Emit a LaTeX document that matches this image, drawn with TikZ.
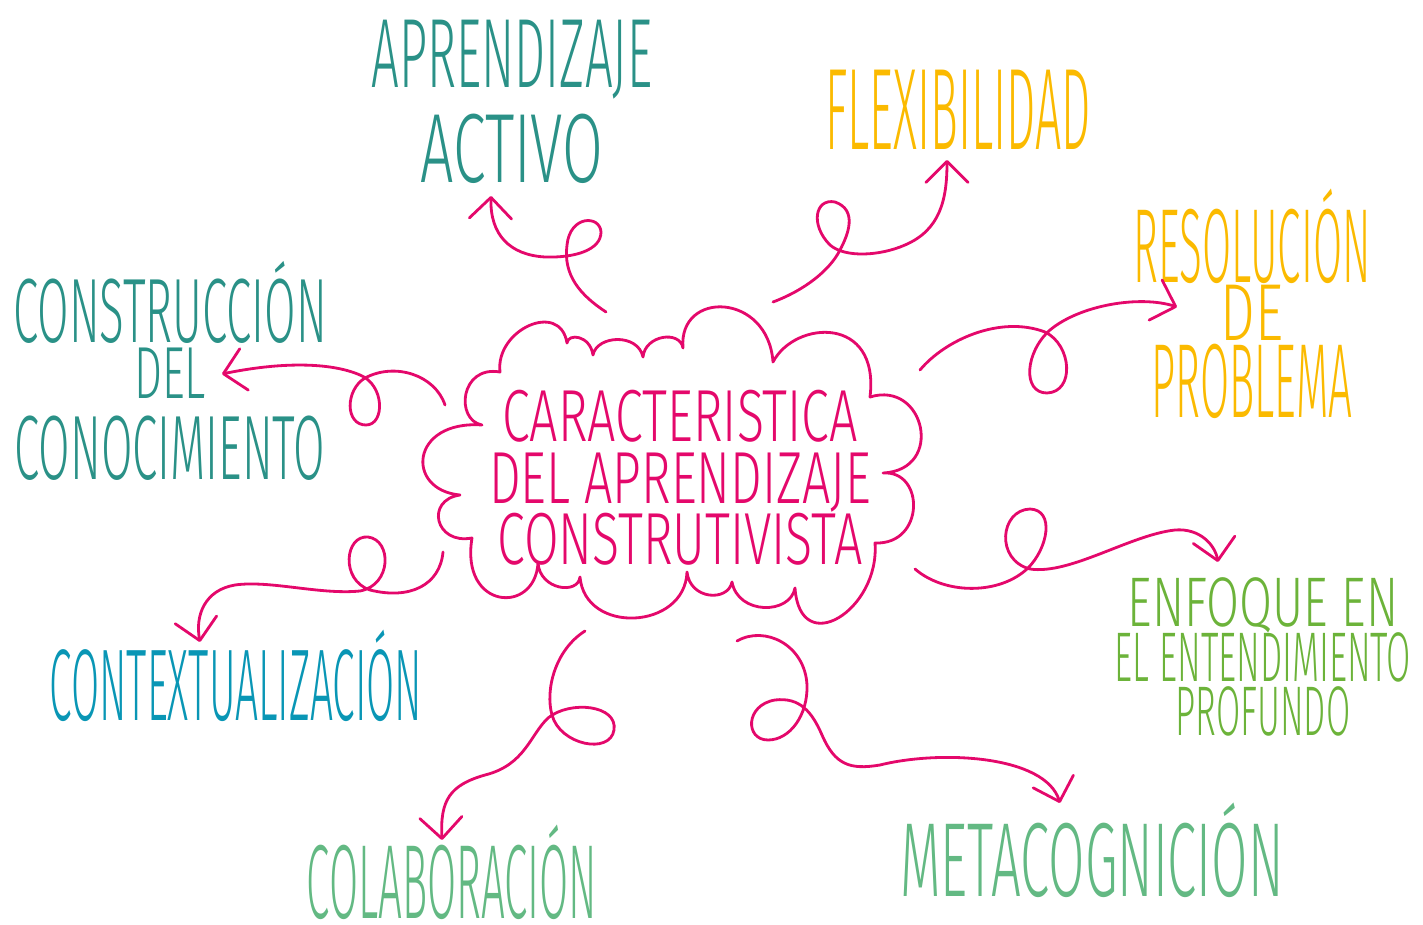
\documentclass[tikz,border=0pt]{standalone}
\usepackage{fontspec}
\usepackage{xcolor}
\usepackage{tikz}
\usetikzlibrary{arrows.meta}
\newfontfamily\manoA[FakeStretch=0.40]{Fira Sans Light}
\newfontfamily\manoB[FakeStretch=0.50]{Fira Sans Light}
\newfontfamily\manoD[FakeStretch=0.60]{Fira Sans Light}
\newfontfamily\manoC[FakeStretch=0.68]{Fira Sans Light}
\definecolor{rosa}{HTML}{E4086B}
\definecolor{verdeazul}{HTML}{2A9187}
\definecolor{amarillo}{HTML}{FBBA00}
\definecolor{verde}{HTML}{6CB33A}
\definecolor{azul}{HTML}{0996B5}
\definecolor{menta}{HTML}{63B983}
\lineskiplimit=-100pt
\tikzset{>={Straight Barb[length=12pt,width=24pt,round]}}

\begin{document}
\begin{tikzpicture}[line cap=round,line join=round,x=0.02cm,y=-0.02cm,
		trazo/.style={color=rosa,line width=1.6pt},
		etiq/.style={inner sep=0pt,align=center}]
	\useasboundingbox (0,0) rectangle (1423,925);
	% nube central
	\draw[trazo] (500,372) .. controls (495,330) and (560,300) .. (567,343)
		.. controls (568,333) and (590,335) .. (593,355)
		.. controls (597,335) and (638,333) .. (643,357)
		.. controls (645,335) and (680,330) .. (683,348)
		.. controls (678,290) and (768,292) .. (773,362)
		.. controls (795,320) and (880,315) .. (870,397)
		.. controls (925,380) and (945,470) .. (883,473)
		.. controls (925,470) and (925,545) .. (875,543)
		.. controls (880,610) and (800,660) .. (795,588)
		.. controls (790,615) and (738,615) .. (732,582)
		.. controls (728,602) and (690,600) .. (687,572)
		.. controls (685,630) and (585,635) .. (580,577)
		.. controls (578,595) and (540,590) .. (538,563)
		.. controls (535,615) and (460,610) .. (472,538)
		.. controls (435,545) and (425,500) .. (460,495)
		.. controls (405,490) and (410,420) .. (482,425)
		.. controls (455,420) and (460,365) .. (500,372) -- cycle;
	\node[etiq,rosa,font=\manoC\fontsize{42}{35}\selectfont] (centro) at (680,478) {CARACTERISTICA\\DEL APRENDIZAJE\\CONSTRUTIVISTA};
	% etiquetas
	\node[etiq,verdeazul,font=\manoB\fontsize{56}{54}\selectfont] (activo) at (512,102) {APRENDIZAJE\\{\manoD ACTIVO}};
	\node[etiq,amarillo,font=\manoA\fontsize{66}{66}\selectfont,anchor=base] (flex) at (958,150) {FLEXIBILIDAD};
	\node[etiq,amarillo,font=\manoA\fontsize{60}{33}\selectfont] (resol) at (1252,304) {RESOLUCIÓN\\{\manoC\fontsize{46}{33}\selectfont DE}\\[11pt]PROBLEMA};
	\node[etiq,verde,font=\manoB\fontsize{40}{31}\selectfont] (enfoque) at (1263,657) {{\manoC ENFOQUE EN}\\EL ENTENDIMIENTO\\PROFUNDO};
	\node[etiq,menta,font=\manoB\fontsize{60}{60}\selectfont,anchor=base] (meta) at (1092,896) {METACOGNICIÓN};
	\node[etiq,menta,font=\manoA\fontsize{60}{60}\selectfont,anchor=base] (colab) at (452,918) {COLABORACIÓN};
	\node[etiq,azul,font=\manoA\fontsize{58}{58}\selectfont,anchor=base] (contexto) at (236,720) {CONTEXTUALIZACIÓN};
	\node[etiq,verdeazul,font=\manoB\fontsize{52}{32}\selectfont] (constr) at (170,371) {CONSTRUCCIÓN\\{\manoD\fontsize{42}{32}\selectfont DEL}\hspace*{22pt}\\[14pt]CONOCIMIENTO};
	% salidas y llegadas de las flechas
	\coordinate (sal1) at (606,312); \coordinate (lle1) at (491,196);
	\coordinate (sal2) at (773,302); \coordinate (lle2) at (947,160);
	\coordinate (sal3) at (920,370); \coordinate (lle3) at (1177,307);
	\coordinate (sal4) at (915,569); \coordinate (lle4) at (1218,562);
	\coordinate (sal5) at (737,641); \coordinate (lle5) at (1060,803);
	\coordinate (sal6) at (585,631); \coordinate (lle6) at (442,840);
	\coordinate (sal7) at (443,552); \coordinate (lle7) at (200,642);
	\coordinate (sal8) at (445,405); \coordinate (lle8) at (222,374);
	% flechas con bucle
	\draw[trazo,->] (sal1) .. controls (580,295) and (563,275) .. (567,245)
		.. controls (570,215) and (600,215) .. (601,232)
		.. controls (601,250) and (575,258) .. (545,257)
		.. controls (510,255) and (490,235) .. (lle1);
	\draw[trazo,->] (sal2) .. controls (805,290) and (830,270) .. (840,250)
		.. controls (848,235) and (858,210) .. (835,202)
		.. controls (815,198) and (810,225) .. (830,245)
		.. controls (845,258) and (880,256) .. (905,245)
		.. controls (940,230) and (947,200) .. (lle2);
	\draw[trazo,->] (sal3) .. controls (945,340) and (1000,315) .. (1045,332)
		.. controls (1072,345) and (1075,392) .. (1047,393)
		.. controls (1022,393) and (1025,352) .. (1050,330)
		.. controls (1080,305) and (1140,295) .. (lle3);
	\draw[trazo,->] (sal4) .. controls (945,595) and (1000,595) .. (1028,568)
		.. controls (1048,548) and (1055,510) .. (1030,509)
		.. controls (1000,510) and (995,560) .. (1030,569)
		.. controls (1070,575) and (1130,535) .. (1175,530)
		.. controls (1200,528) and (1215,545) .. (lle4);
	\draw[trazo,->] (sal5) .. controls (765,625) and (805,645) .. (807,685)
		.. controls (808,715) and (790,740) .. (768,740)
		.. controls (745,740) and (745,705) .. (775,700)
		.. controls (800,697) and (812,712) .. (822,735)
		.. controls (835,765) and (850,770) .. (880,765)
		.. controls (940,750) and (1045,755) .. (lle5);
	\draw[trazo,->] (sal6) .. controls (555,650) and (545,690) .. (552,715)
		.. controls (560,745) and (610,755) .. (614,730)
		.. controls (618,705) and (570,700) .. (548,718)
		.. controls (530,735) and (525,765) .. (485,775)
		.. controls (450,785) and (440,800) .. (lle6);
	\draw[trazo,->] (sal7) .. controls (440,585) and (410,600) .. (370,590)
		.. controls (340,580) and (345,535) .. (368,537)
		.. controls (392,540) and (392,585) .. (360,591)
		.. controls (320,595) and (270,580) .. (235,585)
		.. controls (205,590) and (195,615) .. (lle7);
	\draw[trazo,->] (sal8) .. controls (435,375) and (395,362) .. (365,378)
		.. controls (345,390) and (345,425) .. (366,425)
		.. controls (385,425) and (385,385) .. (360,375)
		.. controls (330,362) and (280,362) .. (lle8);
\end{tikzpicture}
\end{document}
